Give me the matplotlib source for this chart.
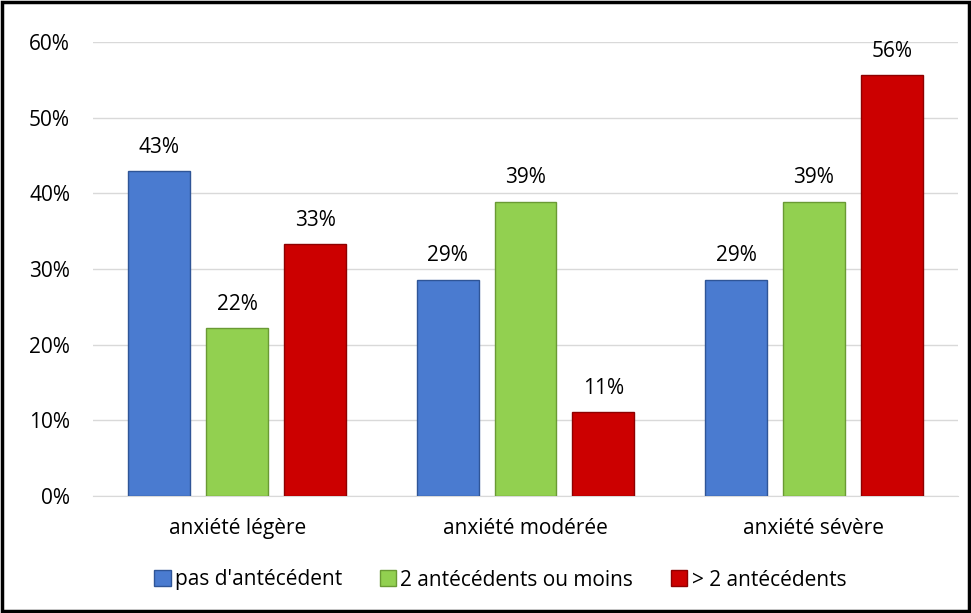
import numpy as np
import matplotlib.pyplot as plt
from matplotlib.patches import Rectangle

# Donnees du graphique
categories = ["anxiété légère", "anxiété modérée", "anxiété sévère"]
series_names = ["pas d'antécédent", "2 antécédents ou moins", "> 2 antécédents"]
pas_antecedent = [42.9, 28.6, 28.6]
deux_ou_moins = [22.2, 38.9, 38.9]
plus_de_deux = [33.3, 11.1, 55.6]
colors = ["#4A7BD0", "#92D050", "#CC0000"]
edge_colors = ["#2F5597", "#6A9A34", "#8E0000"]

plt.rcParams['font.family'] = ['Open Sans', 'DejaVu Sans']
fs = 15

fig = plt.figure(figsize=(9.71, 6.13), dpi=100)
ax = fig.add_axes([93 / 971, 1 - 496 / 613, 865 / 971, 454 / 613])

x = np.arange(len(categories))
width = 0.215
step = 0.27
all_series = [pas_antecedent, deux_ou_moins, plus_de_deux]

for i, vals in enumerate(all_series):
    pos = x + (i - 1) * step
    bars = ax.bar(pos, np.array(vals) / 100, width, color=colors[i],
                  edgecolor=edge_colors[i], linewidth=1, label=series_names[i], zorder=3)
    for b, v in zip(bars, vals):
        ax.annotate(f"{v:.0f}%", (b.get_x() + b.get_width() / 2, b.get_height()),
                    xytext=(0, 9.5), textcoords="offset points", ha="center",
                    va="bottom", fontsize=fs)

ax.set_ylim(0, 0.6)
ax.set_xlim(-0.5, 2.5)
ax.set_yticks(np.arange(0, 0.61, 0.1))
ax.set_yticklabels([f"{int(round(t * 100))}%" for t in np.arange(0, 0.61, 0.1)], fontsize=fs)
ax.set_xticks(x)
ax.set_xticklabels(categories, fontsize=fs)
ax.tick_params(axis="both", length=0)
ax.tick_params(axis="y", pad=16.5)
ax.tick_params(axis="x", pad=16)
ax.grid(axis="y", color="#D9D9D9", linewidth=1, zorder=0)
for s in ["top", "right", "left"]:
    ax.spines[s].set_visible(False)
ax.spines["bottom"].set_color("#D9D9D9")

ax.legend(loc="center", bbox_to_anchor=(0.515, 1 - 580 / 613), bbox_transform=fig.transFigure,
          ncol=3, frameon=False, fontsize=fs, handlelength=0.8, handleheight=0.8,
          handletextpad=0.2, columnspacing=1.8)

# cadre noir autour de la figure
fig.patches.append(Rectangle((0.002, 0.003), 0.996, 0.994, transform=fig.transFigure,
                             fill=False, edgecolor="black", linewidth=2.5))

fig.savefig("out.png", dpi=100)
